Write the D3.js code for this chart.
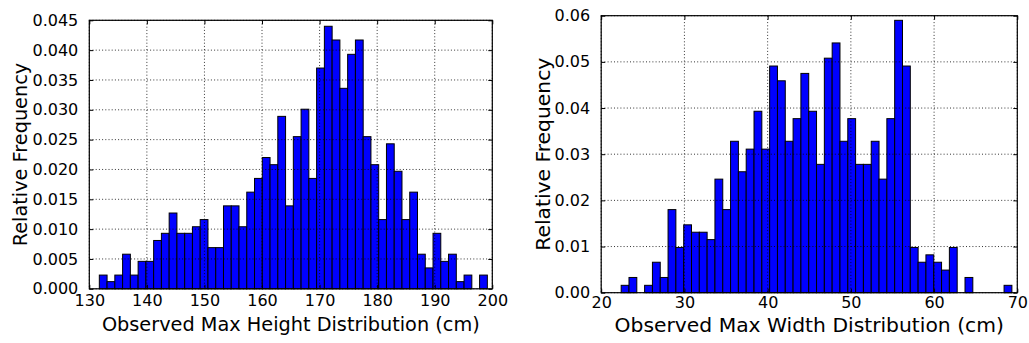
<!DOCTYPE html>
<html>
<head>
<meta charset="utf-8">
<script src="https://cdn.jsdelivr.net/npm/d3@7"></script>
<style>
  html, body { margin: 0; padding: 0; background: #ffffff; }
  svg { display: block; }
  text { font-family: "DejaVu Sans", sans-serif; fill: #000; }
</style>
</head>
<body>
<svg id="chart" width="1029" height="343"></svg>
<script>
// Histogram of observed maximum heights (cm): density per bin
const heightBinStart = 131.74;
const heightBinWidth = 1.348;
const heightFreq = [
  0.0023, 0.0012, 0.0023, 0.0058, 0.0023, 0.0046, 0.0046, 0.0081, 0.0093, 0.0127,
  0.0093, 0.0093, 0.0104, 0.0116, 0.0069, 0.0069, 0.0139, 0.0139, 0.0104, 0.0162,
  0.0185, 0.0220, 0.0208, 0.0289, 0.0139, 0.0255, 0.0301, 0.0185, 0.0370, 0.0440,
  0.0417, 0.0336, 0.0393, 0.0417, 0.0255, 0.0208, 0.0116, 0.0243, 0.0197, 0.0116,
  0.0162, 0.0058, 0.0035, 0.0093, 0.0046, 0.0058, 0.0012, 0.0023, 0.0000, 0.0023
];
const heightXTicks = [130, 140, 150, 160, 170, 180, 190, 200];
const heightYTicks = [0, 0.005, 0.010, 0.015, 0.020, 0.025, 0.030, 0.035, 0.040, 0.045];

// Histogram of observed maximum widths (cm): density per bin
const widthBinStart = 22.40;
const widthBinWidth = 0.939;
const widthFreq = [
  0.0016, 0.0033, 0.0000, 0.0016, 0.0066, 0.0033, 0.0180, 0.0098, 0.0147, 0.0131,
  0.0131, 0.0115, 0.0246, 0.0180, 0.0328, 0.0262, 0.0311, 0.0393, 0.0311, 0.0491,
  0.0459, 0.0328, 0.0377, 0.0475, 0.0393, 0.0278, 0.0508, 0.0541, 0.0328, 0.0377,
  0.0278, 0.0278, 0.0328, 0.0246, 0.0377, 0.0590, 0.0491, 0.0098, 0.0066, 0.0082,
  0.0066, 0.0049, 0.0098, 0.0000, 0.0033, 0.0000, 0.0000, 0.0000, 0.0000, 0.0016
];
const widthXTicks = [20, 30, 40, 50, 60, 70];
const widthYTicks = [0, 0.01, 0.02, 0.03, 0.04, 0.05, 0.06];

const svg = d3.select("#chart");

function histogramPanel(opts) {
  const { box, xDomain, yDomain, binStart, binWidth, freq, xTicks, yTicks,
          yFormat, xLabel, yLabel, yLabelX, xTickGap, xLabelY, labelSize } = opts;
  const x = d3.scaleLinear().domain(xDomain).range([box.left, box.right]);
  const y = d3.scaleLinear().domain(yDomain).range([box.bottom, box.top]);
  const g = svg.append("g");

  const bins = freq.map((v, i) => ({ x0: binStart + i * binWidth, x1: binStart + (i + 1) * binWidth, v }));

  // bars
  g.append("g").selectAll("rect").data(bins).join("rect")
    .attr("x", d => x(d.x0))
    .attr("y", d => y(d.v))
    .attr("width", d => x(d.x1) - x(d.x0))
    .attr("height", d => y(0) - y(d.v))
    .attr("fill", "#0000ff")
    .attr("stroke", "#000")
    .attr("stroke-width", 1);

  // dotted grid, drawn above the bars
  const grid = g.append("g").attr("stroke", "#000").attr("stroke-width", 0.8)
    .attr("stroke-dasharray", "1,2.2").attr("fill", "none");
  grid.selectAll("line.v").data(xTicks).join("line").attr("class", "v")
    .attr("x1", d => x(d)).attr("x2", d => x(d))
    .attr("y1", box.top).attr("y2", box.bottom);
  grid.selectAll("line.h").data(yTicks).join("line").attr("class", "h")
    .attr("x1", box.left).attr("x2", box.right)
    .attr("y1", d => y(d)).attr("y2", d => y(d));

  // axes via d3 axis generators (inward ticks on all four sides)
  const bottomAxis = d3.axisBottom(x).tickValues(xTicks).tickSize(-4).tickPadding(xTickGap).tickFormat(d3.format("d"));
  const topAxis = d3.axisTop(x).tickValues(xTicks).tickSize(-4).tickFormat("");
  const leftAxis = d3.axisLeft(y).tickValues(yTicks).tickSize(-4).tickPadding(11).tickFormat(d3.format(yFormat));
  const rightAxis = d3.axisRight(y).tickValues(yTicks).tickSize(-4).tickFormat("");

  const styleAxis = sel => {
    sel.select(".domain").remove();
    sel.selectAll(".tick line").attr("stroke", "#000").attr("stroke-width", 1);
    sel.selectAll(".tick text").attr("font-size", 16).attr("font-family", "DejaVu Sans").attr("fill", "#000");
  };
  g.append("g").attr("transform", `translate(0,${box.bottom})`).call(bottomAxis).call(styleAxis);
  g.append("g").attr("transform", `translate(0,${box.top})`).call(topAxis).call(styleAxis);
  g.append("g").attr("transform", `translate(${box.left},0)`).call(leftAxis).call(styleAxis);
  g.append("g").attr("transform", `translate(${box.right},0)`).call(rightAxis).call(styleAxis);

  // frame
  g.append("rect")
    .attr("x", box.left).attr("y", box.top)
    .attr("width", box.right - box.left).attr("height", box.bottom - box.top)
    .attr("fill", "none").attr("stroke", "#000").attr("stroke-width", 1.2);

  // axis titles
  g.append("text")
    .attr("x", (box.left + box.right) / 2).attr("y", xLabelY)
    .attr("text-anchor", "middle").attr("font-size", labelSize)
    .text(xLabel);
  g.append("text")
    .attr("transform", `translate(${yLabelX},${(box.top + box.bottom) / 2}) rotate(-90)`)
    .attr("text-anchor", "middle").attr("font-size", labelSize)
    .text(yLabel);
}

histogramPanel({
  box: { left: 89.3, right: 492.3, top: 20.3, bottom: 288.8 },
  xDomain: [130, 200], yDomain: [0, 0.045],
  binStart: heightBinStart, binWidth: heightBinWidth, freq: heightFreq,
  xTicks: heightXTicks, yTicks: heightYTicks, yFormat: ".3f",
  xLabel: "Observed Max Height Distribution (cm)", yLabel: "Relative Frequency",
  yLabelX: 27, xTickGap: 6, xLabelY: 331, labelSize: 19.3
});

histogramPanel({
  box: { left: 601.2, right: 1017.3, top: 15.7, bottom: 292.7 },
  xDomain: [20, 70], yDomain: [0, 0.06],
  binStart: widthBinStart, binWidth: widthBinWidth, freq: widthFreq,
  xTicks: widthXTicks, yTicks: widthYTicks, yFormat: ".2f",
  xLabel: "Observed Max Width Distribution (cm)", yLabel: "Relative Frequency",
  yLabelX: 550, xTickGap: 4, xLabelY: 332, labelSize: 20.3
});
</script>
</body>
</html>
